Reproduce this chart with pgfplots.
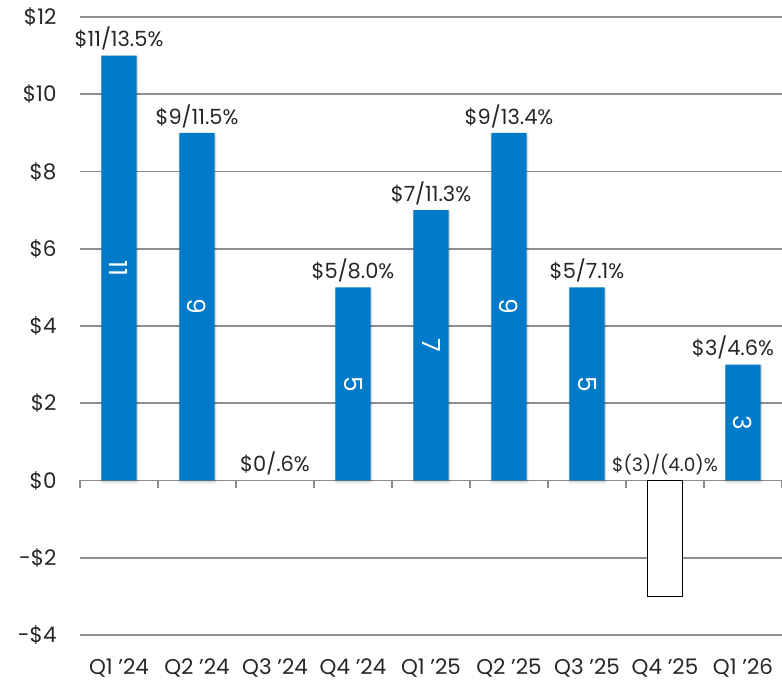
\documentclass[border=0pt]{standalone}
\usepackage{pgfplots}
\pgfplotsset{compat=1.18}
\usepackage{pgfplotstable}
\usepackage{fontspec}
\setmainfont{Poppins}
\usetikzlibrary{shadows.blur}
\definecolor{barblue}{HTML}{007AC9}
\definecolor{gridgray}{HTML}{8E8E8E}
\definecolor{txt}{HTML}{262626}

\pgfplotstableread{
x y
0 11
1 9
3 5
4 7
5 9
6 5
8 3
}\posdata
\pgfplotstableread{
x y
7 -3
}\negdata
\pgfplotstableread{
x ytop lab
0 11 {\$11/13.5\%}
1 9 {\$9/11.5\%}
2 0 {\$0/.6\%}
3 5 {\$5/8.0\%}
4 7 {\$7/11.3\%}
5 9 {\$9/13.4\%}
6 5 {\$5/7.1\%}
7 0 {\fontsize{18.5}{22}\selectfont\$(3)/(4.0)\%}
}\toplabels
\pgfplotstableread{
x ytop lab
8 3 {\$3/4.6\%}
}\lastlabel
\pgfplotstableread{
x ymid lab
0 5.5 11
1 4.5 9
3 2.5 5
4 3.5 7
5 4.5 9
6 2.5 5
8 1.5 3
}\inlabels

\begin{document}
\begin{tikzpicture}
\begin{axis}[
  at={(0,0)}, anchor=south west,
  scale only axis, width=702bp, height=618bp,
  xmin=-0.5, xmax=8.5, ymin=-4, ymax=12,
  axis x line*=bottom, axis y line*=left,
  axis line style={draw=none},
  major tick length=0pt,
  xtick={0,...,8},
  xticklabels={Q1 '24,Q2 '24,Q3 '24,Q4 '24,Q1 '25,Q2 '25,Q3 '25,Q4 '25,Q1 '26},
  ytick={-4,-2,0,2,4,6,8,10,12},
  yticklabels={-\$4,-\$2,\$0,\$2,\$4,\$6,\$8,\$10,\$12},
  ymajorgrids,
  grid style={gridgray, line width=1.6bp},
  tick label style={font=\fontsize{21.5}{26}\selectfont, text=txt},
  yticklabel style={anchor=east, xshift=-20bp},
  xticklabel style={anchor=center, yshift=-33bp},
  clip=false,
]
\addplot[ybar, bar width=0.45, fill=barblue, draw=none,
  blur shadow={shadow xshift=0.5bp, shadow yshift=-1.5bp, shadow blur steps=6, shadow opacity=25}]
  table[x=x,y=y] {\posdata};
\addplot[ybar, bar width=0.45, fill=white, draw=black, line width=1.4bp]
  table[x=x,y=y] {\negdata};
\pgfplotsinvokeforeach{-0.5,0.5,1.5,2.5,3.5,4.5,5.5,6.5,7.5,8.5}{
  \draw[gridgray, line width=1.6bp] (axis cs:#1,0) -- ([yshift=-8bp]axis cs:#1,0);
}
\addplot[draw=none, mark=none, point meta=explicit symbolic,
  nodes near coords,
  every node near coord/.style={anchor=south, yshift=4bp, fill=white, inner sep=1bp,
    font=\fontsize{21}{25}\selectfont, text=txt}]
  table[x=x,y=ytop,meta=lab] {\toplabels};
\addplot[draw=none, mark=none, point meta=explicit symbolic,
  nodes near coords,
  every node near coord/.style={anchor=south, yshift=4bp, xshift=-10bp, fill=white, inner sep=1bp,
    font=\fontsize{21}{25}\selectfont, text=txt}]
  table[x=x,y=ytop,meta=lab] {\lastlabel};
\addplot[draw=none, mark=none, point meta=explicit symbolic,
  nodes near coords,
  every node near coord/.style={anchor=center, rotate=-90, inner sep=0pt,
    font=\fontsize{25}{28}\selectfont, text=white}]
  table[x=x,y=ymid,meta=lab] {\inlabels};
\end{axis}
\pgfresetboundingbox
\path (-80bp,-46bp) rectangle (702bp,635bp);
\end{tikzpicture}
\end{document}
